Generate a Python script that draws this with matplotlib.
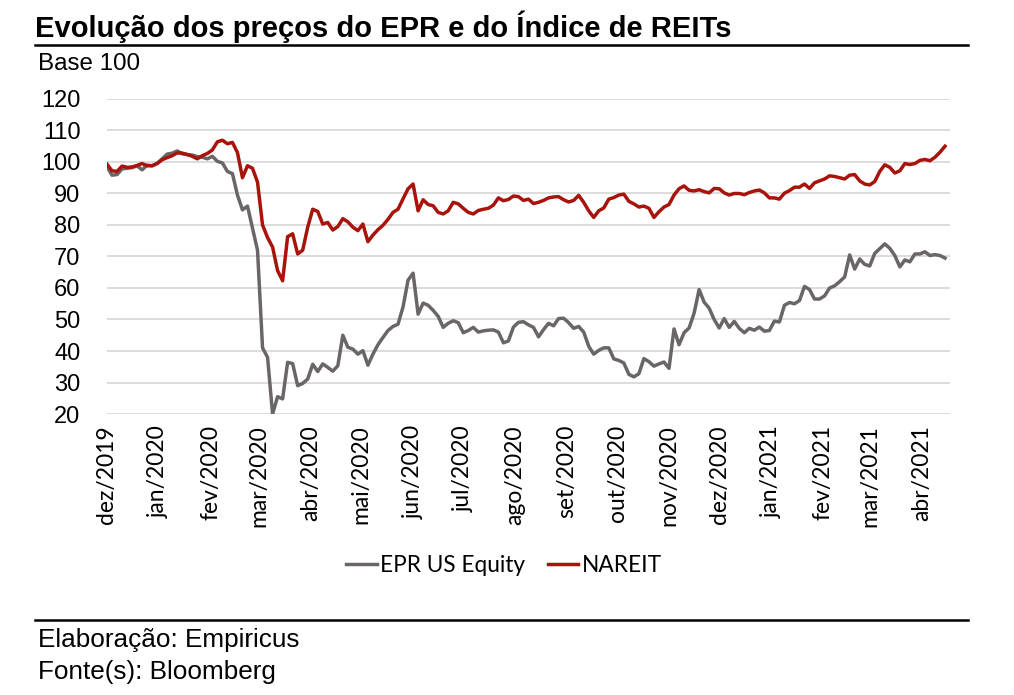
import matplotlib
matplotlib.use("Agg")
import matplotlib.pyplot as plt
from matplotlib.lines import Line2D
import pandas as pd

# ---------------- data ----------------
dates = pd.date_range("2019-12-01", periods=168, freq="3D")

nareit = [
    99.3, 97.2, 97.0, 98.7, 98.3, 98.4, 98.9, 99.5, 98.8, 98.8,
    99.5, 100.7, 101.4, 102.0, 102.9, 102.8, 102.4, 101.8, 101.0, 102.0,
    102.7, 103.8, 106.4, 106.9, 105.8, 106.2, 103.0, 95.0, 98.8, 98.0,
    93.6, 80.0, 76.0, 73.0, 65.5, 62.3, 76.3, 77.2, 70.8, 72.0,
    79.3, 85.0, 84.3, 80.3, 80.8, 78.4, 79.5, 82.0, 81.0, 79.3,
    78.2, 80.3, 74.7, 76.8, 78.5, 79.9, 81.8, 84.0, 85.0, 88.3,
    91.5, 93.0, 84.5, 88.0, 86.5, 86.1, 84.0, 83.5, 84.5, 87.2,
    86.7, 85.3, 84.0, 83.5, 84.6, 85.0, 85.3, 86.3, 88.6, 87.7,
    88.1, 89.2, 89.0, 87.8, 88.2, 86.8, 87.2, 87.8, 88.6, 88.9,
    89.0, 88.0, 87.3, 87.8, 89.4, 87.2, 84.5, 82.4, 84.5, 85.4,
    88.2, 88.7, 89.5, 89.8, 87.5, 86.7, 85.7, 86.0, 85.3, 82.4,
    84.2, 85.7, 86.5, 89.5, 91.5, 92.4, 91.0, 90.8, 91.2, 90.6,
    90.2, 91.6, 91.5, 90.2, 89.5, 90.0, 90.0, 89.6, 90.3, 90.8,
    91.1, 90.2, 88.6, 88.6, 88.2, 90.1, 90.9, 92.0, 92.0, 93.0,
    91.6, 93.4, 94.0, 94.6, 95.6, 95.4, 95.0, 94.6, 95.8, 96.0,
    94.0, 93.0, 92.7, 93.8, 97.0, 99.1, 98.3, 96.5, 97.2, 99.5,
    99.2, 99.5, 100.5, 100.8, 100.4, 101.5, 103.1, 105.0,
]

epr = [
    98.5, 95.8, 96.0, 97.8, 98.0, 98.2, 98.8, 97.5, 99.0, 98.8,
    99.6, 101.0, 102.5, 102.8, 103.5, 102.6, 102.3, 102.2, 101.7, 101.5,
    101.0, 101.8, 100.2, 99.7, 97.0, 96.3, 89.5, 84.8, 86.0, 79.0,
    72.0, 41.0, 38.0, 20.0, 25.5, 24.8, 36.4, 36.0, 29.0, 29.7,
    31.1, 35.8, 33.5, 35.9, 34.8, 33.6, 35.3, 45.0, 41.2, 40.6,
    39.0, 40.1, 35.5, 39.0, 42.0, 44.3, 46.5, 47.8, 48.5, 54.0,
    62.5, 64.7, 51.7, 55.2, 54.5, 52.9, 51.0, 47.5, 48.8, 49.6,
    49.0, 45.8, 46.5, 47.5, 46.0, 46.4, 46.6, 46.7, 46.0, 42.6,
    43.2, 47.6, 49.1, 49.3, 48.3, 47.5, 44.5, 46.8, 48.8, 48.0,
    50.3, 50.4, 49.0, 47.2, 47.8, 46.0, 41.5, 39.0, 40.2, 41.0,
    41.0, 37.5, 37.0, 36.2, 32.6, 31.8, 32.8, 37.6, 36.6, 35.2,
    35.9, 36.5, 34.5, 47.0, 42.0, 45.8, 47.3, 52.0, 59.5, 55.5,
    53.6, 50.0, 47.3, 50.3, 47.5, 49.4, 47.2, 45.8, 47.2, 46.6,
    47.6, 46.3, 46.5, 49.5, 49.2, 54.5, 55.4, 55.0, 56.0, 60.5,
    59.5, 56.5, 56.5, 57.5, 60.0, 60.7, 62.0, 63.5, 70.5, 66.0,
    69.2, 67.5, 67.0, 71.0, 72.5, 74.0, 72.6, 70.3, 66.7, 68.9,
    68.3, 70.8, 70.8, 71.5, 70.3, 70.6, 70.3, 69.5,
]

month_ticks = pd.date_range("2019-12-01", "2021-04-01", freq="MS")
month_labels = ["dez/2019", "jan/2020", "fev/2020", "mar/2020", "abr/2020",
                "mai/2020", "jun/2020", "jul/2020", "ago/2020", "set/2020",
                "out/2020", "nov/2020", "dez/2020", "jan/2021", "fev/2021",
                "mar/2021", "abr/2021"]
y_ticks = [20, 30, 40, 50, 60, 70, 80, 90, 100, 110, 120]

title = "Evolução dos preços do EPR e do Índice de REITs"
subtitle = "Base 100"
footer1 = "Elaboração: Empiricus"
footer2 = "Fonte(s): Bloomberg"
series_names = ["EPR US Equity", "NAREIT"]

# ---------------- styling ----------------
HELV = ["Liberation Sans", "DejaVu Sans"]
CALI = ["Lato", "DejaVu Sans"]
GREY = "#6b6666"
RED = "#a8140c"

fig = plt.figure(figsize=(10.14, 6.95), dpi=100)
fig.patch.set_facecolor("white")
ax = fig.add_axes([0.1055, 0.4043, 0.9369 - 0.1055, 0.8576 - 0.4043])

ax.plot(dates, epr, color=GREY, lw=2.5, label=series_names[0], solid_joinstyle="round")
ax.plot(dates, nareit, color=RED, lw=2.5, label=series_names[1], solid_joinstyle="round")

ax.set_ylim(20, 120)
ax.set_yticks(y_ticks)
ax.set_xlim(pd.Timestamp("2019-12-01"), pd.Timestamp("2021-04-18"))
ax.set_xticks(month_ticks)
ax.set_xticklabels(month_labels, rotation=90, fontsize=16.5, family=CALI, color="black")
for lbl in ax.get_yticklabels():
    lbl.set_family(HELV)
    lbl.set_fontsize(17)
ax.tick_params(axis="y", length=0, pad=19)
ax.tick_params(axis="x", length=0, pad=8)
ax.grid(axis="y", color="#d9d9d9", lw=1.3)
ax.set_axisbelow(True)
for s in ax.spines.values():
    s.set_visible(False)

leg = fig.legend(loc="center", bbox_to_anchor=(0.497, 0.186), ncol=2, frameon=False,
                 handlelength=1.35, handletextpad=0.15, columnspacing=1.0,
                 prop={"family": CALI, "size": 16.3})

# titles / rules / footer
fig.text(0.0345, 0.9468, title, family=HELV, fontsize=21, fontweight="bold", va="baseline", ha="left")
fig.add_artist(Line2D([0.0345, 0.9546], [0.935, 0.935], color="black", lw=1.8))
fig.text(0.0375, 0.899, subtitle, family=HELV, fontsize=17.4, va="baseline", ha="left")
fig.add_artist(Line2D([0.0345, 0.9546], [0.108, 0.108], color="black", lw=1.8))
fig.text(0.0375, 0.069, footer1, family=HELV, fontsize=18.8, va="baseline", ha="left")
fig.text(0.0375, 0.023, footer2, family=HELV, fontsize=18.8, va="baseline", ha="left")

fig.savefig("out.png", dpi=100, facecolor="white")
